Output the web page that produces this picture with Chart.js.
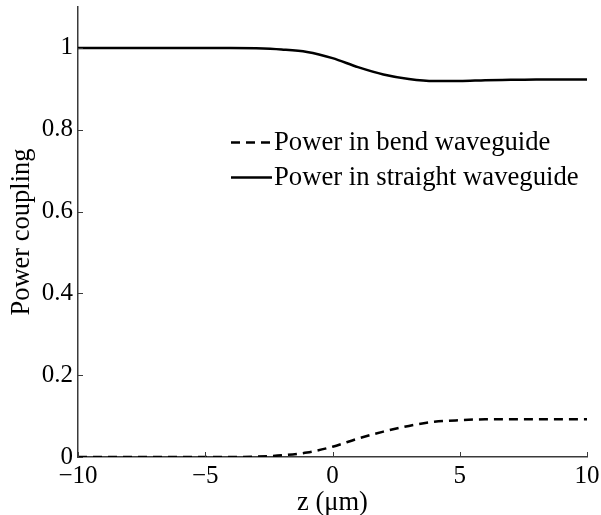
<!DOCTYPE html>
<html>
<head>
<meta charset="utf-8">
<script src="https://cdn.jsdelivr.net/npm/chart.js@4/dist/chart.umd.min.js"></script>
<style>
  html, body { margin: 0; padding: 0; background: #fff; }
  #wrap { width: 601px; height: 515px; }
</style>
</head>
<body>
<div id="wrap"><canvas id="coupling"></canvas></div>
<script>
// propagation distance z (um) and power in each guide
const zValues = [-10, -9, -8, -7, -6, -5, -4, -3, -2, -1, 0, 1, 2, 3, 4, 5, 6, 7, 8, 9, 10];
const bendPower = [0, 0, 0, 0, 0, 0, 0, 0.001, 0.004, 0.011, 0.025, 0.045, 0.062, 0.076, 0.086, 0.090, 0.092, 0.092, 0.092, 0.092, 0.092];
const straightPower = [1, 1, 1, 1, 1, 1, 1, 0.999, 0.996, 0.990, 0.975, 0.953, 0.935, 0.924, 0.919, 0.919, 0.921, 0.922, 0.923, 0.923, 0.923];
const xTicks = [-10, -5, 0, 5, 10];
const yTicks = [0, 0.2, 0.4, 0.6, 0.8, 1];

const FONT = "'Liberation Serif', 'Times New Roman', serif";
const AXIS_COLOR = '#3a3a3a';

const toPoints = ys => zValues.map((z, i) => ({ x: z, y: ys[i] }));
const fmt = v => String(+v.toFixed(1)).replace('-', '\u2212');

// inward tick marks + legend inside the plot
const decorations = {
  id: 'decorations',
  afterDraw(chart) {
    const { ctx, chartArea, scales } = chart;
    ctx.save();
    ctx.strokeStyle = AXIS_COLOR;
    ctx.lineWidth = 1;
    xTicks.forEach(v => {
      const px = Math.round(scales.x.getPixelForValue(v)) + 0.5;
      ctx.beginPath();
      ctx.moveTo(px, chartArea.bottom);
      ctx.lineTo(px, chartArea.bottom - 5);
      ctx.stroke();
    });
    yTicks.forEach(v => {
      const py = Math.round(scales.y.getPixelForValue(v)) + 0.5;
      ctx.beginPath();
      ctx.moveTo(chartArea.left, py);
      ctx.lineTo(chartArea.left + 5, py);
      ctx.stroke();
    });

    // legend
    const x0 = 231, x1 = 272;
    const rows = [142, 177];
    ctx.font = '26.7px ' + FONT;
    ctx.fillStyle = '#000';
    ctx.textBaseline = 'middle';
    chart.data.datasets.forEach((ds, i) => {
      const y = rows[i] + 0.5;
      ctx.strokeStyle = ds.borderColor;
      ctx.lineWidth = ds.borderWidth;
      ctx.setLineDash(ds.borderDash || []);
      ctx.beginPath();
      ctx.moveTo(x0, y);
      ctx.lineTo(x1, y);
      ctx.stroke();
      ctx.setLineDash([]);
      ctx.fillText(ds.label, x1 + 2, rows[i] + 1);
    });
    ctx.restore();
  }
};

new Chart(document.getElementById('coupling'), {
  type: 'line',
  data: {
    datasets: [{
      label: 'Power in bend waveguide',
      data: toPoints(bendPower),
      borderColor: '#000',
      borderWidth: 2.5,
      borderDash: [9, 6],
      pointRadius: 0,
      cubicInterpolationMode: 'monotone',
      fill: false
    }, {
      label: 'Power in straight waveguide',
      data: toPoints(straightPower),
      borderColor: '#000',
      borderWidth: 2.5,
      pointRadius: 0,
      cubicInterpolationMode: 'monotone',
      fill: false
    }]
  },
  options: {
    responsive: true,
    maintainAspectRatio: false,
    animation: false,
    layout: { padding: { top: 7, right: 14, left: 0, bottom: 0 } },
    plugins: {
      legend: { display: false },
      tooltip: { enabled: false }
    },
    scales: {
      x: {
        type: 'linear',
        min: -10,
        max: 10,
        afterBuildTicks: s => { s.ticks = xTicks.map(v => ({ value: v })); },
        afterFit: s => {
          s.height = 58;
          s.paddingLeft = 0;
          s.paddingRight = 0;
        },
        ticks: {
          callback: v => fmt(v),
          color: '#000',
          font: { family: FONT, size: 25 },
          padding: 4,
          maxRotation: 0
        },
        grid: { display: false, drawTicks: false },
        border: { display: true, color: AXIS_COLOR, width: 1.5 },
        title: {
          display: true,
          text: 'z (\u03bcm)',
          color: '#000',
          font: { family: FONT, size: 26.5 },
          padding: { top: 0, bottom: -4 }
        }
      },
      y: {
        min: 0,
        max: 1.1,
        afterBuildTicks: s => { s.ticks = yTicks.map(v => ({ value: v })); },
        afterFit: s => {
          s.width = 78;
          s.paddingTop = 0;
          s.paddingBottom = 0;
        },
        ticks: {
          callback: v => fmt(v),
          color: '#000',
          font: { family: FONT, size: 25 },
          padding: 5
        },
        grid: { display: false, drawTicks: false },
        border: { display: true, color: AXIS_COLOR, width: 1.5 },
        title: {
          display: true,
          text: 'Power coupling',
          color: '#000',
          font: { family: FONT, size: 26.5 },
          padding: { top: 6, bottom: 0 }
        }
      }
    }
  },
  plugins: [decorations]
});
</script>
</body>
</html>
